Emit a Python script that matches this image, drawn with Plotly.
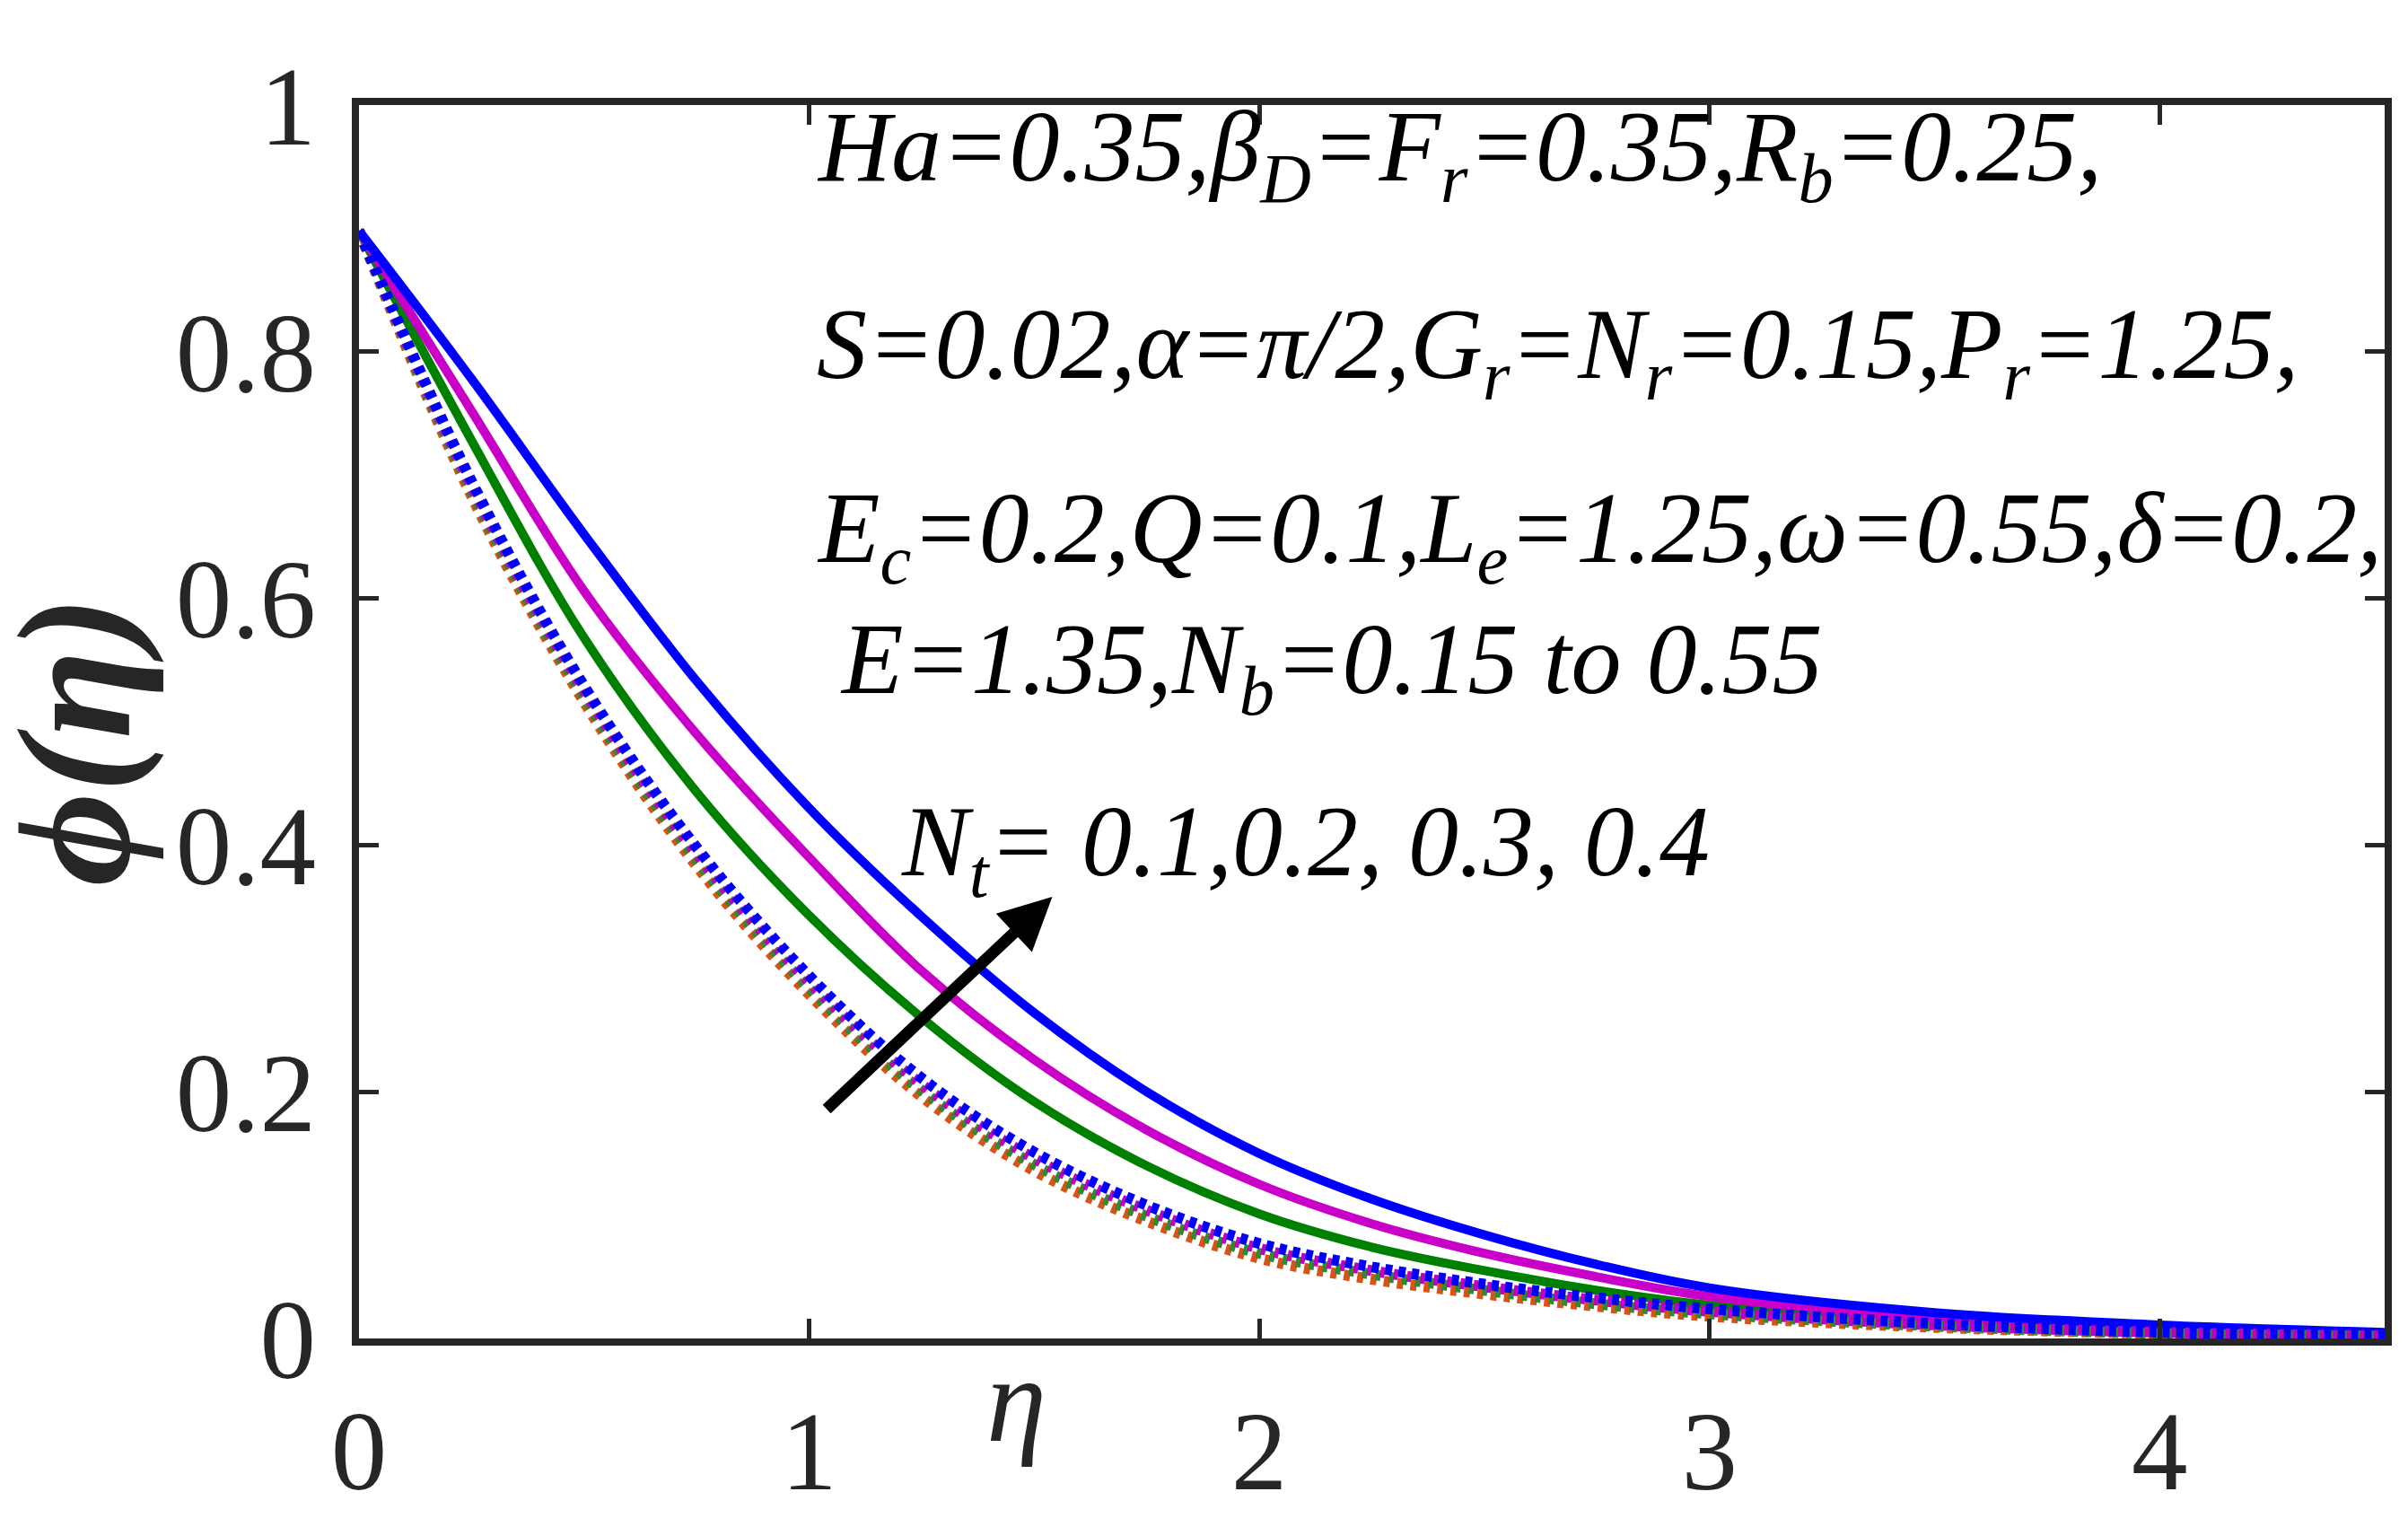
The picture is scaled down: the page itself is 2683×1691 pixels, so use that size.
import plotly.graph_objects as go

# eta grid and concentration profiles phi(eta)
eta = [0, 0.25, 0.5, 0.75, 1.0, 1.25, 1.5, 1.75, 2.0, 2.25, 2.5, 2.75, 3.0, 3.5, 4.0, 4.5]

# solid curves (Nt = 0.2, 0.3, 0.4)
phi_green = [0.898, 0.728, 0.568, 0.443, 0.343, 0.260, 0.192, 0.140, 0.101, 0.074, 0.055, 0.039, 0.027, 0.014, 0.007, 0.003]
phi_magenta = [0.898, 0.752, 0.606, 0.490, 0.390, 0.298, 0.226, 0.169, 0.125, 0.093, 0.069, 0.050, 0.034, 0.017, 0.009, 0.004]
phi_blue = [0.898, 0.778, 0.652, 0.533, 0.430, 0.342, 0.264, 0.200, 0.150, 0.113, 0.084, 0.060, 0.041, 0.021, 0.011, 0.005]

# dotted cluster (Nb = 0.15 to 0.55)
phi_dot_orange = [0.898, 0.683, 0.516, 0.383, 0.279, 0.196, 0.136, 0.095, 0.065, 0.048, 0.036, 0.026, 0.018, 0.009, 0.004, 0.002]
phi_dot_green = [0.898, 0.687, 0.520, 0.388, 0.284, 0.201, 0.141, 0.099, 0.069, 0.052, 0.039, 0.028, 0.020, 0.010, 0.004, 0.002]
phi_dot_magenta = [0.898, 0.691, 0.525, 0.393, 0.289, 0.206, 0.146, 0.104, 0.073, 0.055, 0.042, 0.031, 0.022, 0.011, 0.005, 0.002]
phi_dot_blue = [0.898, 0.695, 0.529, 0.398, 0.294, 0.211, 0.151, 0.108, 0.077, 0.058, 0.044, 0.033, 0.024, 0.012, 0.005, 0.002]

x_ticks = [0, 1, 2, 3, 4]
y_ticks = [0, 0.2, 0.4, 0.6, 0.8, 1]

info_lines = [
    "Ha=0.35,β<sub>D</sub>=F<sub>r</sub>=0.35,R<sub>b</sub>=0.25,",
    "S=0.02,α=π/2,G<sub>r</sub>=N<sub>r</sub>=0.15,P<sub>r</sub>=1.25,",
    "E<sub>c</sub>=0.2,Q=0.1,L<sub>e</sub>=1.25,ω=0.55,δ=0.2,",
    " E=1.35,N<sub>b</sub>=0.15 to 0.55",
    "N<sub>t</sub>= 0.1,0.2, 0.3, 0.4",
]
info_x = [1.012, 1.012, 1.012, 1.012, 1.2]
info_y = [0.96, 0.80, 0.651, 0.545, 0.397]

fig = go.Figure()

for y, col in [(phi_green, '#008000'), (phi_magenta, '#C800C8'), (phi_blue, '#0000FF')]:
    fig.add_trace(go.Scatter(x=eta, y=y, mode='lines', line_shape='spline',
                             line=dict(color=col, width=10)))

for y, col, dash in [(phi_dot_orange, '#D95319', '7px,8px'), (phi_dot_green, '#2E8B2E', '6px,9px'),
                     (phi_dot_magenta, '#C000C0', '5px,10px'), (phi_dot_blue, '#0000FF', '8px,7px')]:
    fig.add_trace(go.Scatter(x=eta, y=y, mode='lines', line_shape='spline',
                             line=dict(color=col, width=12, dash=dash)))

serif = 'Liberation Serif'

for txt, xx, yy in zip(info_lines, info_x, info_y):
    fig.add_annotation(x=xx, y=yy, xref='x', yref='y', text='<i>' + txt + '</i>',
                       showarrow=False, xanchor='left', yanchor='middle',
                       font=dict(family=serif, size=112, color='#000000'))

# trend arrow
fig.add_annotation(x=1.54, y=0.358, ax=1.036, ay=0.185, xref='x', yref='y',
                   axref='x', ayref='y', text='', showarrow=True,
                   arrowhead=2, arrowsize=0.9, arrowwidth=13, arrowcolor='#000000')

# axis titles
fig.add_annotation(x=-0.14, y=0.484, xref='paper', yref='paper', text='<b><i>ϕ(η)</i></b>',
                   showarrow=False, textangle=-90, xanchor='center', yanchor='middle',
                   font=dict(family=serif, size=180, color='#262626'))
fig.add_annotation(x=1.46, y=-0.05, xref='x', yref='paper', text='<i>η</i>',
                   showarrow=False, xanchor='center', yanchor='middle',
                   font=dict(family=serif, size=135, color='#262626'))

axis_common = dict(showline=True, linewidth=8, linecolor='#262626', mirror='ticks',
                   ticks='inside', ticklen=22, tickwidth=5, tickcolor='#262626',
                   showgrid=False, zeroline=False, automargin=False,
                   tickfont=dict(family=serif, size=125, color='#262626'))

# page body adds a small margin, so the figure is a bit smaller than the window
fig.update_layout(width=2675, height=1683, showlegend=False,
                  plot_bgcolor='#FFFFFF', paper_bgcolor='#FFFFFF',
                  margin=dict(l=392, r=26, t=109, b=200))
fig.update_xaxes(range=[0, 4.5], tickvals=x_ticks, ticklabelstandoff=10, **axis_common)
fig.update_yaxes(range=[0, 1], tickvals=y_ticks, ticklabelstandoff=15, **axis_common)

fig.write_html("out.html")
